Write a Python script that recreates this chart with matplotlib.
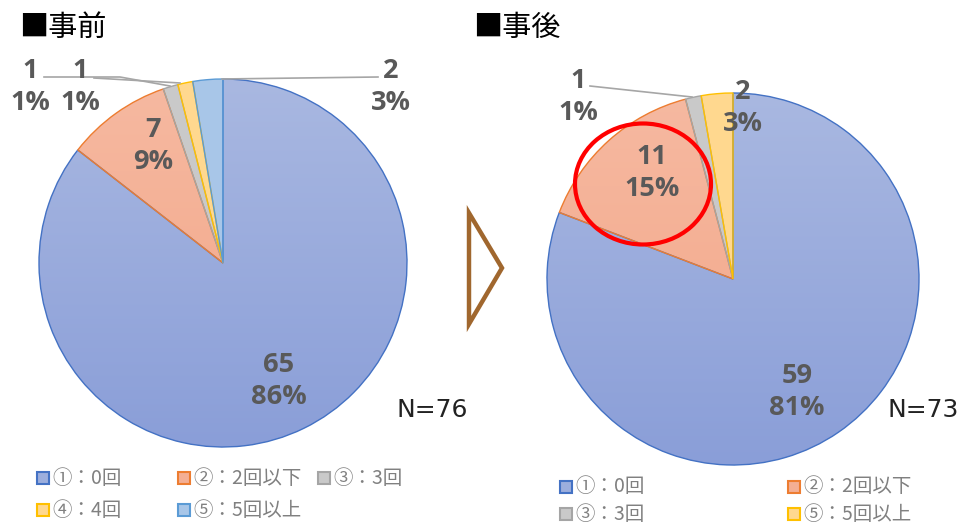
import numpy as np
import matplotlib
matplotlib.use("Agg")
import matplotlib.pyplot as plt
from matplotlib.patches import Rectangle, Ellipse, Polygon, Wedge
from matplotlib.colors import LinearSegmentedColormap

# ---------------- data ----------------
before_labels = ["①：0回", "②：2回以下", "③：3回", "④：4回", "⑤：5回以上"]
before_values = [65, 7, 1, 1, 2]
after_labels = ["①：0回", "②：2回以下", "③：3回", "⑤：5回以上"]
after_values = [59, 11, 1, 2]
titles = ["■事前", "■事後"]

fills = {"①": "#9CAEDD", "②": "#F4AF94", "③": "#C9C9C9", "④": "#FFD88F", "⑤": "#A8C6E8"}
edges = {"①": "#4472C4", "②": "#ED7D31", "③": "#A5A5A5", "④": "#FFC000", "⑤": "#5B9BD5"}

W, H = 959, 523
fig = plt.figure(figsize=(W / 100, H / 100), dpi=100)
ax = fig.add_axes([0, 0, 1, 1])

FAM = ["Open Sans", "Noto Sans CJK JP", "DejaVu Sans"]
CJK = ["Noto Sans CJK JP", "DejaVu Sans"]
LABEL_C = "#595959"


def Y(py):
    return H - py


def draw_pie(values, keys, center, r):
    cx, cy = center
    wedges, _ = ax.pie(values, startangle=90, counterclock=False, center=(cx, cy), radius=r,
                       colors=[fills[k] for k in keys],
                       wedgeprops=dict(linewidth=1.0), frame=True)
    grad = np.linspace(0, 1, 256).reshape(-1, 1)
    cmap = LinearSegmentedColormap.from_list("g", ["#8A9ED8", "#A9B8E1"])
    im = ax.imshow(grad, cmap=cmap, origin="lower", extent=[cx - r, cx + r, cy - r, cy + r],
                   aspect="auto", zorder=wedges[0].get_zorder() + 0.1)
    im.set_clip_path(wedges[0])
    cmap2 = LinearSegmentedColormap.from_list("g2", ["#F2A586", "#F6B9A1"])
    im2 = ax.imshow(grad, cmap=cmap2, origin="lower", extent=[cx - r, cx + r, cy - r, cy + r],
                    aspect="auto", zorder=wedges[1].get_zorder() + 0.1)
    im2.set_clip_path(wedges[1])
    for w, k in zip(wedges, keys):
        ax.add_patch(Wedge(w.center, w.r, w.theta1, w.theta2, facecolor="none",
                           edgecolor=edges[k], linewidth=1.0, zorder=5))
    return wedges


left_keys = ["①", "②", "③", "④", "⑤"]
draw_pie(before_values, left_keys, (223, Y(263)), 184)
right_keys = ["①", "②", "③", "④"]
draw_pie(after_values, right_keys, (733, Y(279)), 186)

ax.set_xlim(0, W)
ax.set_ylim(0, H)
ax.set_aspect("equal")
ax.axis("off")


def lab(x, y, v, tot):
    ax.text(x, Y(y), f"{v}\n{round(v / tot * 100):.0f}%", ha="center", va="center",
            fontsize=19.5, fontweight="bold", color=LABEL_C, family=FAM, linespacing=1.3, zorder=10)

nb = sum(before_values)
na = sum(after_values)
lab(279, 381, before_values[0], nb)
lab(153, 146, before_values[1], nb)
lab(30, 87, before_values[2], nb)
lab(80, 87, before_values[3], nb)
lab(391, 87, before_values[4], nb)

lab(797, 392, after_values[0], na)
lab(652, 173, after_values[1], na)
lab(578, 97, after_values[2], na)
lab(743, 108, after_values[3], na)

LC = "#A6A6A6"
ax.plot([44, 120, 170], [Y(77), Y(77), Y(86)], color=LC, lw=1.2, zorder=9)
ax.plot([94, 180], [Y(78), Y(83)], color=LC, lw=1.2, zorder=9)
ax.plot([378, 222], [Y(77), Y(79)], color=LC, lw=1.2, zorder=9)
ax.plot([590, 692], [Y(86), Y(97)], color=LC, lw=1.2, zorder=9)

ax.text(19, Y(28), titles[0], ha="left", va="center", fontsize=21, family=CJK, color="black")
ax.text(473, Y(28), titles[1], ha="left", va="center", fontsize=21, family=CJK, color="black")

ax.text(432, Y(410), f"N={nb}", ha="center", va="center", fontsize=18, family="DejaVu Sans", color="#222222")
ax.text(923, Y(410), f"N={na}", ha="center", va="center", fontsize=18, family="DejaVu Sans", color="#222222")

ax.add_patch(Polygon([[469, Y(213)], [502, Y(268)], [469, Y(324)]], closed=True, fill=False,
                     edgecolor="#A0672E", linewidth=3.2, joinstyle="miter", zorder=10))

ax.add_patch(Ellipse((643, Y(184)), 136, 121, angle=0, fill=False, edgecolor="#FF0000",
                     linewidth=3.0, zorder=11))

LEG_C = "#808080"
def legend_item(x, y, key, text):
    ax.add_patch(Rectangle((x, Y(y) - 6), 12, 12, facecolor=fills[key], edgecolor=edges[key],
                           linewidth=1.5, zorder=10))
    ax.text(x + 15, Y(y), text, ha="left", va="center", fontsize=14, family=CJK, color=LEG_C)

lpos = [(37, 478), (178, 478), (318, 478), (37, 510), (178, 510)]
for (x, y), k, t in zip(lpos, left_keys, before_labels):
    legend_item(x, y, k, t)

rpos = [(560, 487), (788, 487), (560, 514), (788, 514)]
for (x, y), k, t in zip(rpos, right_keys, after_labels):
    legend_item(x, y, k, t)

fig.savefig("out.png", dpi=100)
